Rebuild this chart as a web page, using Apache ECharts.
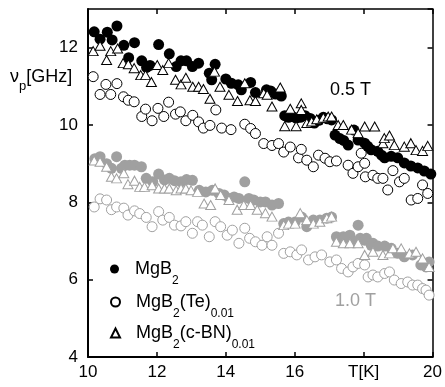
<!DOCTYPE html>
<html><head><meta charset="utf-8">
<script src="https://cdn.jsdelivr.net/npm/echarts@6/dist/echarts.min.js"></script>
<style>html,body{margin:0;padding:0;background:#fff}#c{width:445px;height:387px}</style>
</head><body><div id="c"></div>
<script>
const xTickLabels = ['10','12','14','16','T[K]','20'];
const yTickLabels = ['4','6','8','10','12'];
const seriesNames = ['MgB2','MgB2(Te)0.01','MgB2(c-BN)0.01'];
const fieldLabels = ['0.5 T','1.0 T'];

const mgb2_05 = [[10.18,12.41],[10.35,12.22],[10.56,12.40],[10.70,12.20],[10.84,12.56],[11.04,12.06],[11.18,11.74],[11.35,12.13],[11.56,11.66],[11.70,11.49],[11.80,11.54],[12.05,12.08],[12.36,11.84],[12.56,11.51],[12.70,11.66],[12.86,11.66],[13.03,11.51],[13.21,11.60],[13.52,11.34],[13.59,11.17],[13.69,11.57],[14.0,11.19],[14.16,11.08],[14.36,11.04],[14.45,10.91],[14.72,11.10],[14.86,10.84],[15.18,10.91],[15.30,10.88],[15.44,10.80],[15.61,10.75],[15.71,10.24],[15.82,10.20],[15.92,10.22],[16.04,10.18],[16.16,10.20],[16.30,10.24],[16.45,10.17],[16.57,10.05],[16.70,10.12],[16.83,10.20],[16.95,10.16],[17.07,10.13],[17.17,9.74],[17.31,9.65],[17.42,9.60],[17.55,9.48],[17.72,9.87],[17.84,9.61],[18.03,9.53],[18.12,9.45],[18.22,9.36],[18.41,9.32],[18.52,9.22],[18.61,9.15],[18.80,9.19],[18.99,9.15],[19.18,9.02],[19.37,8.94],[19.57,8.89],[19.76,8.81],[19.95,8.73]];
const te_05 = [[10.15,11.25],[10.35,10.79],[10.52,11.05],[10.66,10.79],[10.84,11.07],[11.03,10.73],[11.17,10.64],[11.34,10.60],[11.56,10.22],[11.67,10.41],[11.86,10.11],[12.03,10.43],[12.20,10.22],[12.34,10.59],[12.54,10.28],[12.68,10.34],[12.84,10.11],[13.04,10.25],[13.21,10.08],[13.35,9.92],[13.54,9.99],[13.71,10.39],[13.88,9.92],[14.15,9.88],[14.55,10.02],[14.72,9.91],[14.86,9.78],[15.10,9.52],[15.34,9.47],[15.53,9.52],[15.68,9.30],[15.87,9.43],[16.11,9.15],[16.19,9.37],[16.35,9.09],[16.54,8.92],[16.69,9.22],[16.88,9.14],[17.02,9.05],[17.21,9.07],[17.55,8.96],[17.69,8.75],[17.84,8.92],[17.93,9.27],[18.03,9.01],[18.05,8.66],[18.27,8.70],[18.41,8.62],[18.56,8.62],[18.70,8.32],[18.85,8.82],[19.04,8.53],[19.18,8.62],[19.38,8.06],[19.57,8.10],[19.71,8.45],[19.86,8.23]];
const cbn_05 = [[10.15,11.91],[10.35,12.05],[10.54,11.68],[10.66,11.91],[10.86,11.98],[11.02,11.60],[11.17,11.57],[11.34,11.47],[11.53,11.29],[11.67,11.29],[11.84,11.11],[12.01,11.55],[12.17,11.42],[12.34,11.60],[12.54,11.17],[12.70,11.05],[12.84,11.22],[13.04,10.99],[13.21,10.99],[13.35,10.93],[13.54,10.68],[13.67,11.38],[13.83,10.99],[14.09,10.78],[14.34,10.62],[14.55,11.08],[14.70,10.64],[14.86,10.62],[15.10,10.82],[15.20,10.78],[15.34,10.48],[15.58,10.97],[15.71,9.97],[15.87,10.42],[16.04,9.97],[16.19,10.56],[16.19,10.39],[16.35,10.05],[16.49,10.09],[16.64,10.15],[16.83,10.19],[16.97,10.22],[17.07,10.22],[17.26,10.00],[17.41,10.00],[17.65,9.88],[17.84,9.79],[18.03,9.96],[18.32,9.96],[18.56,9.53],[18.60,9.66],[18.75,9.73],[18.89,9.48],[19.18,9.44],[19.37,9.53],[19.52,9.35],[19.71,9.33],[19.86,9.46]];
const mgb2_10 = [[10.20,9.13],[10.35,9.18],[10.54,9.00],[10.68,8.88],[10.83,9.18],[10.97,8.88],[11.07,8.96],[11.21,8.96],[11.35,8.96],[11.55,8.92],[11.69,8.62],[11.88,8.53],[12.05,8.73],[12.22,8.58],[12.36,8.62],[12.51,8.56],[12.70,8.53],[12.86,8.59],[13.03,8.57],[13.23,8.31],[13.42,8.27],[13.61,8.31],[13.80,8.23],[13.95,8.19],[14.09,8.10],[14.24,8.14],[14.38,8.10],[14.55,8.53],[14.67,8.10],[14.81,8.06],[15.0,8.01],[15.15,8.01],[15.34,7.93],[15.53,7.97],[15.68,7.45],[15.82,7.49],[16.01,7.49],[16.20,7.62],[16.35,7.37],[16.54,7.54],[16.73,7.54],[16.93,7.59],[17.07,7.62],[17.21,7.11],[17.26,7.02],[17.41,7.11],[17.45,7.07],[17.60,7.15],[17.69,6.98],[17.84,7.41],[17.90,7.07],[18.03,7.02],[18.08,7.07],[18.22,6.89],[18.27,6.94],[18.41,6.87],[18.61,6.87],[18.80,6.81],[18.99,6.68],[19.18,6.59],[19.42,6.64],[19.66,6.38],[19.81,6.33],[19.90,6.46]];
const te_10 = [[10.18,7.88],[10.35,8.09],[10.54,8.06],[10.68,7.81],[10.83,7.88],[11.04,7.85],[11.16,7.67],[11.35,7.78],[11.50,7.71],[11.69,7.61],[11.86,7.37],[12.05,7.76],[12.17,7.54],[12.36,7.61],[12.51,7.41],[12.70,7.39],[12.84,7.50],[13.03,7.20],[13.18,7.50],[13.32,7.41],[13.52,7.11],[13.69,7.50],[13.85,7.37],[14.04,7.15],[14.19,7.28],[14.38,6.94],[14.55,7.33],[14.69,7.07],[14.86,6.98],[15.05,6.89],[15.20,7.11],[15.34,6.89],[15.53,7.20],[15.68,6.68],[15.87,6.72],[16.06,6.64],[16.20,6.77],[16.40,6.51],[16.59,6.59],[16.78,6.64],[17.02,6.46],[17.21,6.51],[17.36,6.29],[17.55,6.20],[17.69,6.33],[17.84,6.42],[18.03,6.38],[18.13,6.07],[18.27,6.12],[18.41,6.07],[18.61,6.16],[18.75,6.20],[18.89,5.99],[19.09,5.90],[19.28,5.94],[19.42,5.86],[19.57,5.86],[19.71,5.77],[19.81,5.73],[19.90,5.60]];
const cbn_10 = [[10.18,9.08],[10.35,9.05],[10.54,8.92],[10.68,8.66],[10.83,8.62],[11.04,8.75],[11.16,8.47],[11.35,8.56],[11.50,8.40],[11.64,8.40],[11.86,8.44],[12.05,8.36],[12.22,8.36],[12.36,8.36],[12.56,8.31],[12.70,8.36],[12.84,8.36],[12.99,8.31],[13.18,8.27],[13.37,7.97],[13.56,7.93],[13.69,8.36],[13.85,8.19],[14.09,8.06],[14.33,7.81],[14.52,7.93],[14.72,7.93],[14.91,7.81],[15.15,7.72],[15.34,7.63],[15.68,7.41],[15.82,7.45],[16.01,7.45],[16.16,7.72],[16.35,7.54],[16.54,7.45],[16.73,7.50],[16.93,7.59],[17.07,7.63],[17.21,6.98],[17.41,6.94],[17.60,6.94],[17.84,6.94],[18.03,6.64],[18.27,6.72],[18.56,6.64],[18.75,6.68],[18.85,6.81],[19.09,6.81],[19.33,6.68],[19.52,6.72],[19.71,6.55],[19.90,6.33]];

const FONT = '"Liberation Sans", Arial, sans-serif';
const GRAY = '#a0a0a0';
const chart = echarts.init(document.getElementById('c'), null, {renderer:'canvas'});

const richSub = {
  m: {fontSize: 18, fontFamily: FONT, color: '#000', fontWeight: 'normal'},
  s: {fontSize: 12, fontFamily: FONT, color: '#000', fontWeight: 'normal', padding: [24, 0, 0, 0]}
};
function legendFmt(name) {
  if (name === seriesNames[0]) return '{m|MgB}{s|2}';
  if (name === seriesNames[1]) return '{m|MgB}{s|2}{m|(Te)}{s|0.01}';
  return '{m|MgB}{s|2}{m|(c-BN)}{s|0.01}';
}
function mkLegend(name, top) {
  return {data: [name], left: 110, top: top, orient: 'vertical', padding: 0,
    itemWidth: 9, itemHeight: 9, formatter: legendFmt,
    textStyle: {rich: richSub, padding: [0, 0, 0, 11]}, selectedMode: false};
}
const circ = (c) => ({color: '#fff', borderColor: c, borderWidth: 1, opacity: 1});
const tri = (c) => ({color: '#fff', borderColor: c, borderWidth: 1, opacity: 1});

const axisCommonX = {type: 'value', min: 10, max: 20, interval: 2, splitLine: {show: false}};
const axisCommonY = {type: 'value', min: 4, max: 13, interval: 2, splitLine: {show: false}};

chart.setOption({
  animation: false,
  title: {text: '{a|ν}{s|p}{a|[GHz]}', left: 10, top: 62, padding: 0,
    textStyle: {fontWeight: 'normal', rich: {a: {fontSize: 18, fontFamily: FONT, color: '#000', fontWeight: 'normal'},
      s: {fontSize: 13, fontFamily: FONT, color: '#000', fontWeight: 'normal', padding: [18, 0, 0, 0]}}}},
  grid: {left: 88, right: 10, top: 9, bottom: 30},
  legend: [mkLegend(seriesNames[0], 260), mkLegend(seriesNames[1], 293), mkLegend(seriesNames[2], 324)],
  xAxis: [
    Object.assign({}, axisCommonX, {position: 'bottom',
      axisLine: {onZero: false, lineStyle: {color: '#000', width: 2}},
      axisTick: {inside: true, length: 5, lineStyle: {color: '#000', width: 1.5}},
      axisLabel: {color: '#000', fontSize: 17, fontFamily: FONT, margin: 7,
        formatter: (v) => xTickLabels[Math.round((v - 10) / 2)] || ''}}),
    Object.assign({}, axisCommonX, {position: 'top',
      axisLine: {onZero: false, lineStyle: {color: '#000', width: 1.5}},
      axisTick: {inside: true, length: 5, lineStyle: {color: '#000', width: 1.5}},
      axisLabel: {show: false}})
  ],
  yAxis: [
    Object.assign({}, axisCommonY, {position: 'left',
      axisLine: {onZero: false, lineStyle: {color: '#000', width: 2}},
      axisTick: {inside: true, length: 5, lineStyle: {color: '#000', width: 1.5}},
      axisLabel: {color: '#000', fontSize: 17, fontFamily: FONT, margin: 10, showMaxLabel: false,
        formatter: (v) => yTickLabels[Math.round((v - 4) / 2)] || ''}}),
    Object.assign({}, axisCommonY, {position: 'right',
      axisLine: {onZero: false, lineStyle: {color: '#000', width: 1.5}},
      axisTick: {inside: true, length: 5, lineStyle: {color: '#000', width: 1.5}},
      axisLabel: {show: false}})
  ],
  graphic: [
    {type: 'text', left: 330, top: 81, style: {text: fieldLabels[0], fill: '#000', font: '18px ' + FONT}},
    {type: 'text', left: 335, top: 292, style: {text: fieldLabels[1], fill: GRAY, font: '18px ' + FONT}}
  ],
  series: [
    {name: 'te10', type: 'scatter', data: te_10, symbol: 'circle', symbolSize: 10, itemStyle: circ(GRAY)},
    {name: seriesNames[1], type: 'scatter', data: te_05, symbol: 'circle', symbolSize: 10, itemStyle: circ('#000')},
    {name: 'mgb10', type: 'scatter', data: mgb2_10, symbol: 'circle', symbolSize: 11, itemStyle: {color: GRAY, opacity: 1}},
    {name: seriesNames[0], type: 'scatter', data: mgb2_05, symbol: 'circle', symbolSize: 11, itemStyle: {color: '#000', opacity: 1}},
    {name: 'cbn10', type: 'scatter', data: cbn_10, symbol: 'triangle', symbolSize: [10, 9], itemStyle: tri(GRAY)},
    {name: seriesNames[2], type: 'scatter', data: cbn_05, symbol: 'triangle', symbolSize: [10, 9], itemStyle: tri('#000')}
  ]
});
</script></body></html>
